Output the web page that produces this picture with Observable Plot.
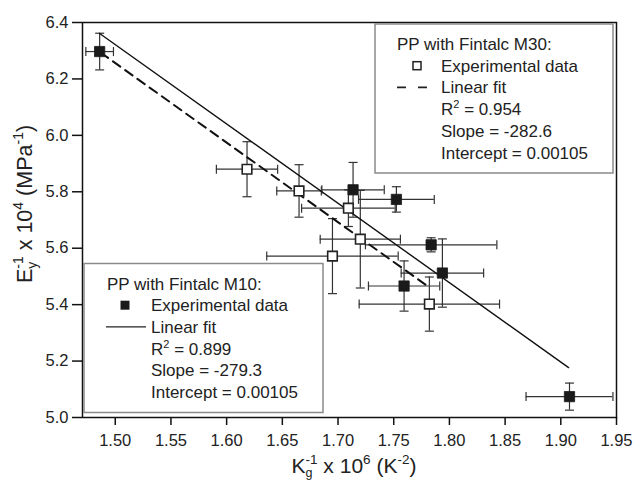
<!DOCTYPE html>
<html>
<head>
<meta charset="utf-8">
<script src="https://cdn.jsdelivr.net/npm/d3@7"></script>
<script src="https://cdn.jsdelivr.net/npm/@observablehq/plot@0.6"></script>
<style>
  html, body { margin: 0; padding: 0; background: #fff; }
  #chart svg { display: block; }
</style>
</head>
<body>
<div id="chart"></div>
<script>
// ---- data ----
// PP with Fintalc M10 (filled squares)
const m10X    = [1.486, 1.7135, 1.7524, 1.7836, 1.7937, 1.7593, 1.9078];
const m10Y    = [6.297, 5.807, 5.773, 5.612, 5.512, 5.466, 5.074];
const m10Xerr = [0.0124, 0.028, 0.034, 0.059, 0.037, 0.032, 0.039];
const m10Yerr = [0.065, 0.097, 0.045, 0.025, 0.121, 0.089, 0.048];
// PP with Fintalc M30 (open squares)
const m30X    = [1.6183, 1.665, 1.7093, 1.720, 1.695, 1.782];
const m30Y    = [5.880, 5.803, 5.742, 5.632, 5.572, 5.402];
const m30Xerr = [0.0275, 0.020, 0.042, 0.036, 0.059, 0.063];
const m30Yerr = [0.0975, 0.093, 0.065, 0.173, 0.133, 0.096];
// linear fits (end points)
const fitM10X = [1.486, 1.907];
const fitM10Y = [6.361, 5.177];
const fitM30X = [1.487, 1.782];
const fitM30Y = [6.293, 5.461];
// ticks
const xTicks = [1.50, 1.55, 1.60, 1.65, 1.70, 1.75, 1.80, 1.85, 1.90, 1.95];
const yTicks = [5.0, 5.2, 5.4, 5.6, 5.8, 6.0, 6.2, 6.4];
// legend texts
const legendM30 = ["PP with Fintalc M30:", "Experimental data", "Linear fit", ["R", "2", " = 0.954"], "Slope = -282.6", "Intercept = 0.00105"];
const legendM10 = ["PP with Fintalc M10:", "Experimental data", "Linear fit", ["R", "2", " = 0.899"], "Slope = -279.3", "Intercept = 0.00105"];

const m10 = m10X.map((x, i) => ({x, y: m10Y[i], xe: m10Xerr[i], ye: m10Yerr[i]}));
const m30 = m30X.map((x, i) => ({x, y: m30Y[i], xe: m30Xerr[i], ye: m30Yerr[i]}));
const fit10 = fitM10X.map((x, i) => ({x, y: fitM10Y[i]}));
const fit30 = fitM30X.map((x, i) => ({x, y: fitM30Y[i]}));
const all = m10.concat(m30);

// custom cap symbols for error bars
const capV = {draw(ctx) { ctx.moveTo(0, -4.5); ctx.lineTo(0, 4.5); }};
const capH = {draw(ctx) { ctx.moveTo(-4.5, 0); ctx.lineTo(4.5, 0); }};

const ebColor = "#333";
const font = "'Liberation Sans', Arial, sans-serif";

const svg = Plot.plot({
  width: 634,
  height: 481,
  marginLeft: 82,
  marginRight: 18,
  marginTop: 22,
  marginBottom: 64,
  style: {fontFamily: font, fontSize: "16px", color: "#111", background: "#fff"},
  x: {domain: [1.4706, 1.95]},
  y: {domain: [5.0, 6.4]},
  marks: [
    // error bars
    Plot.ruleY(all, {y: "y", x1: d => d.x - d.xe, x2: d => d.x + d.xe, stroke: ebColor, strokeWidth: 1.2}),
    Plot.ruleX(all, {x: "x", y1: d => d.y - d.ye, y2: d => d.y + d.ye, stroke: ebColor, strokeWidth: 1.2}),
    Plot.dot(all, {x: d => d.x - d.xe, y: "y", symbol: capV, fill: "none", stroke: ebColor, strokeWidth: 1.2}),
    Plot.dot(all, {x: d => d.x + d.xe, y: "y", symbol: capV, fill: "none", stroke: ebColor, strokeWidth: 1.2}),
    Plot.dot(all, {x: "x", y: d => d.y - d.ye, symbol: capH, fill: "none", stroke: ebColor, strokeWidth: 1.2}),
    Plot.dot(all, {x: "x", y: d => d.y + d.ye, symbol: capH, fill: "none", stroke: ebColor, strokeWidth: 1.2}),
    // fits
    Plot.line(fit10, {x: "x", y: "y", stroke: "#111", strokeWidth: 1.4}),
    Plot.line(fit30, {x: "x", y: "y", stroke: "#111", strokeWidth: 2, strokeDasharray: "9,6"}),
    // markers
    Plot.dot(m30, {x: "x", y: "y", symbol: "square", r: 5.4, fill: "#fff", stroke: "#222", strokeWidth: 1.6}),
    Plot.dot(m10, {x: "x", y: "y", symbol: "square", r: 5.8, fill: "#1a1a1a", stroke: "#1a1a1a", strokeWidth: 0.8}),
    // axes
    Plot.axisX({ticks: xTicks, tickFormat: ".2f", tickSize: 8, tickPadding: 9, fontSize: 16.5, fill: "#222", stroke: "#111", strokeWidth: 1.5, label: null}),
    Plot.axisY({ticks: yTicks, tickFormat: ".1f", tickSize: 10, tickPadding: 4, fontSize: 16.5, fill: "#222", stroke: "#111", strokeWidth: 1.5, label: null}),
    Plot.frame({stroke: "#111", strokeWidth: 1.5})
  ]
});

document.getElementById("chart").appendChild(svg);

const s = d3.select(svg);
const ns = 17; // legend font size

function drawLegend(g, box, lines, kind) {
  g.attr("text-anchor", "start");
  g.append("rect").attr("x", box.x).attr("y", box.y).attr("width", box.w).attr("height", box.h)
    .attr("fill", "#fff").attr("stroke", "#8a8a8a").attr("stroke-width", 1.5);
  lines.forEach((t, i) => {
    const base = box.y + 20 + 6 + i * 21.7;
    const tx = g.append("text").attr("x", i === 0 ? box.tx : box.ix).attr("y", base)
      .attr("text-anchor", "start")
      .attr("font-family", font).attr("font-size", ns).attr("fill", "#222");
    if (Array.isArray(t)) {
      tx.append("tspan").text(t[0]);
      tx.append("tspan").attr("font-size", 11).attr("dy", -7).text(t[1]);
      tx.append("tspan").attr("dy", 7).text(t[2]);
    } else {
      tx.text(t);
    }
  });
  const ySym = box.y + 20 + 21.7;
  const yLine = box.y + 20 + 2 * 21.7;
  if (kind === "open") {
    g.append("rect").attr("x", box.sx - 4).attr("y", ySym - 4).attr("width", 8).attr("height", 8)
      .attr("fill", "#fff").attr("stroke", "#222").attr("stroke-width", 1.5);
    g.append("line").attr("x1", box.lx1).attr("x2", box.lx2).attr("y1", yLine).attr("y2", yLine)
      .attr("stroke", "#222").attr("stroke-width", 1.8).attr("stroke-dasharray", "9,12");
  } else {
    g.append("rect").attr("x", box.sx - 4.5).attr("y", ySym - 4.5).attr("width", 9).attr("height", 9)
      .attr("fill", "#1a1a1a");
    g.append("line").attr("x1", box.lx1).attr("x2", box.lx2).attr("y1", yLine).attr("y2", yLine)
      .attr("stroke", "#222").attr("stroke-width", 1.3);
  }
}

drawLegend(s.append("g"), {x: 375, y: 24, w: 238, h: 149, tx: 397, ix: 441, sx: 417, lx1: 397, lx2: 427}, legendM30, "open");
drawLegend(s.append("g"), {x: 84, y: 263.5, w: 239, h: 149, tx: 107, ix: 151, sx: 125, lx1: 106, lx2: 146}, legendM10, "filled");

// axis titles with sub/superscripts
const yl = s.append("text").attr("transform", "translate(32,204) rotate(-90)")
  .attr("text-anchor", "middle").attr("font-family", font).attr("font-size", 21.5).attr("fill", "#222");
yl.append("tspan").text("E");
yl.append("tspan").attr("font-size", 14).attr("dy", 5).text("y");
yl.append("tspan").attr("font-size", 14).attr("dx", -7).attr("dy", -14).text("-1");
yl.append("tspan").attr("dy", 9).text(" x 10");
yl.append("tspan").attr("font-size", 14).attr("dy", -9).text("4");
yl.append("tspan").attr("dy", 9).text(" (MPa");
yl.append("tspan").attr("font-size", 14).attr("dy", -9).text("-1");
yl.append("tspan").attr("dy", 9).text(")");

const xl = s.append("text").attr("x", 354).attr("y", 473)
  .attr("text-anchor", "middle").attr("font-family", font).attr("font-size", 21).attr("fill", "#222");
xl.append("tspan").text("K");
xl.append("tspan").attr("font-size", 12.5).attr("dy", 4).text("g");
xl.append("tspan").attr("font-size", 13.5).attr("dx", -7).attr("dy", -13).text("-1");
xl.append("tspan").attr("dy", 9).text(" x 10");
xl.append("tspan").attr("font-size", 13.5).attr("dy", -9).text("6");
xl.append("tspan").attr("dy", 9).text(" (K");
xl.append("tspan").attr("font-size", 13.5).attr("dy", -9).text("-2");
xl.append("tspan").attr("dy", 9).text(")");
</script>
</body>
</html>
